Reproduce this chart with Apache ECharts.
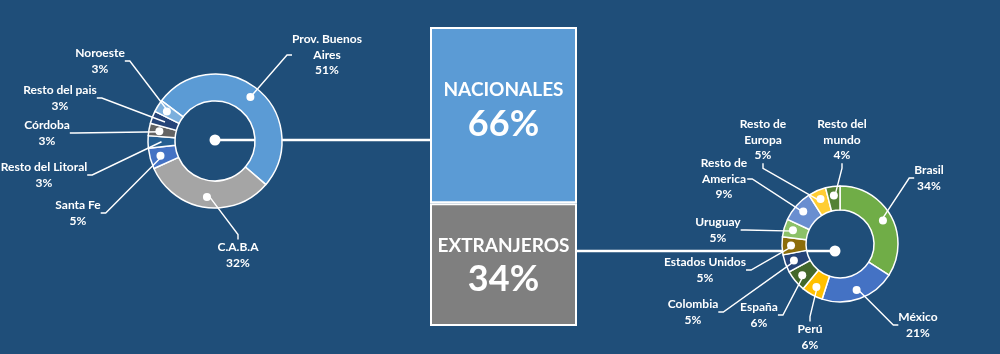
<!DOCTYPE html>
<html>
<head>
<meta charset="utf-8">
<script src="https://cdn.jsdelivr.net/npm/echarts@6/dist/echarts.min.js"></script>
<style>
  html, body { margin: 0; padding: 0; background: #1f4e79; }
  #chart { width: 1000px; height: 354px; }
</style>
</head>
<body>
<div id="chart"></div>
<script>
// data
const originNames = ["NACIONALES", "EXTRANJEROS"];
const originValues = [66, 34];

const nationalNames = ["Prov. Buenos\nAires", "C.A.B.A", "Santa Fe", "Resto del Litoral", "Córdoba", "Resto del pais", "Noroeste"];
const nationalValues = [51, 32, 5, 3, 3, 3, 3];

const foreignNames = ["Brasil", "México", "Perú", "España", "Colombia", "Estados Unidos", "Uruguay", "Resto de\nAmerica", "Resto de\nEuropa", "Resto del\nmundo"];
const foreignValues = [34, 21, 6, 6, 5, 5, 5, 9, 5, 4];

// styles / layout
const nationalColors = ["#5b9bd5", "#a5a5a5", "#4472c4", "#255e91", "#636363", "#264478", "#7cafdd"];
const foreignColors = ["#70ad47", "#4472c4", "#ffc000", "#43682b", "#264478", "#8c6d0a", "#8cc168", "#698ed0", "#ffcd33", "#548235"];
const nationalLabelPos = [[327, 55], [238, 255], [78, 213], [44, 175], [47, 133], [60, 98], [100, 61]];
const foreignLabelPos = [[929, 178], [918, 325], [810, 337], [759, 315], [693, 312], [705, 270], [718, 230], [724, 179], [763, 140], [842, 140]];

const LEFT = { cx: 215, cy: 141, r0: 40, r: 67, start: 143, dot: [215, 140] };
const RIGHT = { cx: 840, cy: 244, r0: 34, r: 58, start: 90, dot: [835, 251] };
const BOX = { left: 430, right: 577, top: 28, bottom: 326 };
const FONT = "Lato, 'Open Sans', sans-serif";

function donutSeries(names, values, colors, labelPos, g) {
  const data = names.map((n, i) => ({ name: n, value: values[i], itemStyle: { color: colors[i] } }));
  const mid = (g.r0 + g.r) / 2;
  return [
    {
      type: "pie",
      z: 2,
      center: [g.cx, g.cy],
      radius: [g.r0, g.r],
      startAngle: g.start,
      clockwise: true,
      silent: true,
      avoidLabelOverlap: false,
      itemStyle: { borderColor: "#ffffff", borderWidth: 1.5 },
      label: {
        show: true,
        position: "inside",
        formatter: "{dot|}",
        rich: { dot: { width: 8, height: 8, borderRadius: 4, backgroundColor: "#ffffff" } },
      },
      labelLine: { show: false },
      data: data,
    },
    {
      type: "pie",
      z: 3,
      center: [g.cx, g.cy],
      radius: [0, mid],
      startAngle: g.start,
      clockwise: true,
      silent: true,
      avoidLabelOverlap: false,
      itemStyle: { color: "rgba(0,0,0,0)", borderWidth: 0 },
      label: {
        show: true,
        position: "outside",
        formatter: "{b}\n{c}%",
        color: "#ffffff",
        fontFamily: FONT,
        fontWeight: "bold",
        fontSize: 12,
        lineHeight: 15.5,
        align: "center",
      },
      labelLine: { show: true, length: 10, length2: 5, lineStyle: { color: "#ffffff", width: 1.4 } },
      labelLayout: function (params) {
        const p = labelPos[params.dataIndex];
        return { x: p[0], y: p[1], align: "center", verticalAlign: "middle" };
      },
      data: names.map((n, i) => ({ name: n, value: values[i] })),
    },
  ];
}

const chart = echarts.init(document.getElementById("chart"));

const option = {
  backgroundColor: "#1f4e79",
  animation: false,
  grid: { left: BOX.left, right: 1000 - BOX.right, top: BOX.top, bottom: 354 - BOX.bottom },
  xAxis: { type: "category", data: ["total"], show: false },
  yAxis: { type: "value", inverse: true, min: 17.5, max: 100, show: false },
  graphic: [
    { type: "line", z: 1, shape: { x1: LEFT.dot[0], y1: LEFT.dot[1], x2: BOX.left, y2: LEFT.dot[1] }, style: { stroke: "#ffffff", lineWidth: 2.5 } },
    { type: "line", z: 1, shape: { x1: BOX.right, y1: RIGHT.dot[1], x2: RIGHT.dot[0], y2: RIGHT.dot[1] }, style: { stroke: "#ffffff", lineWidth: 2.5 } },
    { type: "circle", z: 5, shape: { cx: LEFT.dot[0], cy: LEFT.dot[1], r: 5.5 }, style: { fill: "#ffffff" } },
    { type: "circle", z: 5, shape: { cx: RIGHT.dot[0], cy: RIGHT.dot[1], r: 5.5 }, style: { fill: "#ffffff" } },
  ],
  series: [
    ...originNames.map((name, i) => ({
      type: "bar",
      name: name,
      stack: "origin",
      clip: true,
      barWidth: "100%",
      data: [originValues[i]],
      itemStyle: { color: i === 0 ? "#5b9bd5" : "#7f7f7f", borderColor: "#ffffff", borderWidth: 2 },
      label: {
        show: true,
        position: "inside",
        offset: [0, i === 0 ? -2 : 4],
        formatter: "{n|" + name + "}\n{v|" + originValues[i] + "%}",
        rich: {
          n: { color: "#ffffff", fontFamily: FONT, fontWeight: "bold", fontSize: 19, lineHeight: 22 },
          v: { color: "#ffffff", fontFamily: FONT, fontWeight: "bold", fontSize: 36, lineHeight: 46 },
        },
      },
    })),
    ...donutSeries(nationalNames, nationalValues, nationalColors, nationalLabelPos, LEFT),
    ...donutSeries(foreignNames, foreignValues, foreignColors, foreignLabelPos, RIGHT),
  ],
};

chart.setOption(option);
</script>
</body>
</html>
